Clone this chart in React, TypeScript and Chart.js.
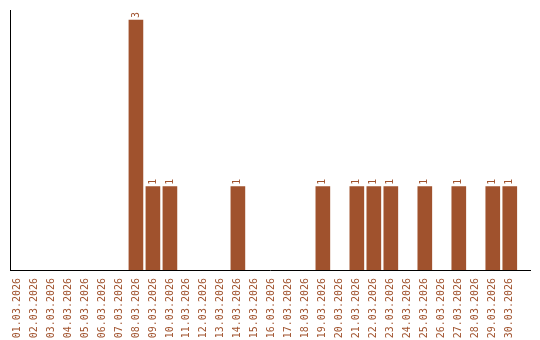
import React, { useEffect, useRef } from "react";
import { Chart, registerables } from "chart.js";

Chart.register(...registerables);

const categories = [
  "01.03.2026", "02.03.2026", "03.03.2026", "04.03.2026", "05.03.2026",
  "06.03.2026", "07.03.2026", "08.03.2026", "09.03.2026", "10.03.2026",
  "11.03.2026", "12.03.2026", "13.03.2026", "14.03.2026", "15.03.2026",
  "16.03.2026", "17.03.2026", "18.03.2026", "19.03.2026", "20.03.2026",
  "21.03.2026", "22.03.2026", "23.03.2026", "24.03.2026", "25.03.2026",
  "26.03.2026", "27.03.2026", "28.03.2026", "29.03.2026", "30.03.2026",
];

const counts = [
  0, 0, 0, 0, 0, 0, 0, 3, 1, 1,
  0, 0, 0, 1, 0, 0, 0, 0, 1, 0,
  1, 1, 1, 0, 1, 0, 1, 0, 1, 1,
];

const yMax = 3.12;
const COLOR = "#A0522D";
const FONT = "DejaVu Sans Mono";

const spacingPlugin = {
  id: "spacing",
  afterLayout(chart: any) {
    const s = chart.scales.x;
    s._startValue = -0.41;
    s._valueRange = categories.length + 0.6;
  },
};

const valueLabels = {
  id: "valueLabels",
  afterDatasetsDraw(chart: any) {
    const ctx = chart.ctx;
    const meta = chart.getDatasetMeta(0);
    ctx.save();
    ctx.fillStyle = COLOR;
    ctx.font = `10px "${FONT}"`;
    ctx.textAlign = "left";
    ctx.textBaseline = "middle";
    meta.data.forEach((bar: any, i: number) => {
      const v = counts[i];
      if (!v) return;
      ctx.save();
      ctx.translate(bar.x, bar.y - 2);
      ctx.rotate(-Math.PI / 2);
      ctx.fillText(String(v), 0, 0);
      ctx.restore();
    });
    ctx.restore();
  },
};

export default function App() {
  const ref = useRef<HTMLCanvasElement | null>(null);
  useEffect(() => {
    document.body.style.margin = "0";
    const chart = new Chart(ref.current as HTMLCanvasElement, {
      type: "bar",
      data: {
        labels: categories,
        datasets: [
          {
            data: counts.map((v) => (v === 0 ? null : v)),
            backgroundColor: COLOR,
            borderWidth: 0,
            barThickness: 14,
          },
        ],
      },
      options: {
        animation: false,
        responsive: false,
        maintainAspectRatio: false,
        layout: { padding: { left: 10, top: 10, right: 10, bottom: 0 } },
        plugins: { legend: { display: false }, tooltip: { enabled: false } },
        scales: {
          x: {
            offset: true,
            grid: { display: false },
            border: { display: true, color: "#000", width: 1 },
            ticks: {
              color: COLOR,
              font: { family: FONT, size: 10 },
              minRotation: 90,
              maxRotation: 90,
              autoSkip: false,
              padding: 0,
            },
            afterFit(scale: any) {
              scale.height = 70;
              scale.paddingLeft = 0;
              scale.paddingRight = 0;
            },
          },
          y: {
            min: 0,
            max: yMax,
            grid: { display: false },
            border: { display: true, color: "#000", width: 1 },
            ticks: { display: false },
            afterFit(scale: any) {
              scale.width = 0;
            },
          },
        },
      },
      plugins: [spacingPlugin, valueLabels],
    });
    return () => chart.destroy();
  }, []);
  return (
    <div style={{ width: 540, height: 340 }}>
      <canvas ref={ref} width={540} height={340} />
    </div>
  );
}
